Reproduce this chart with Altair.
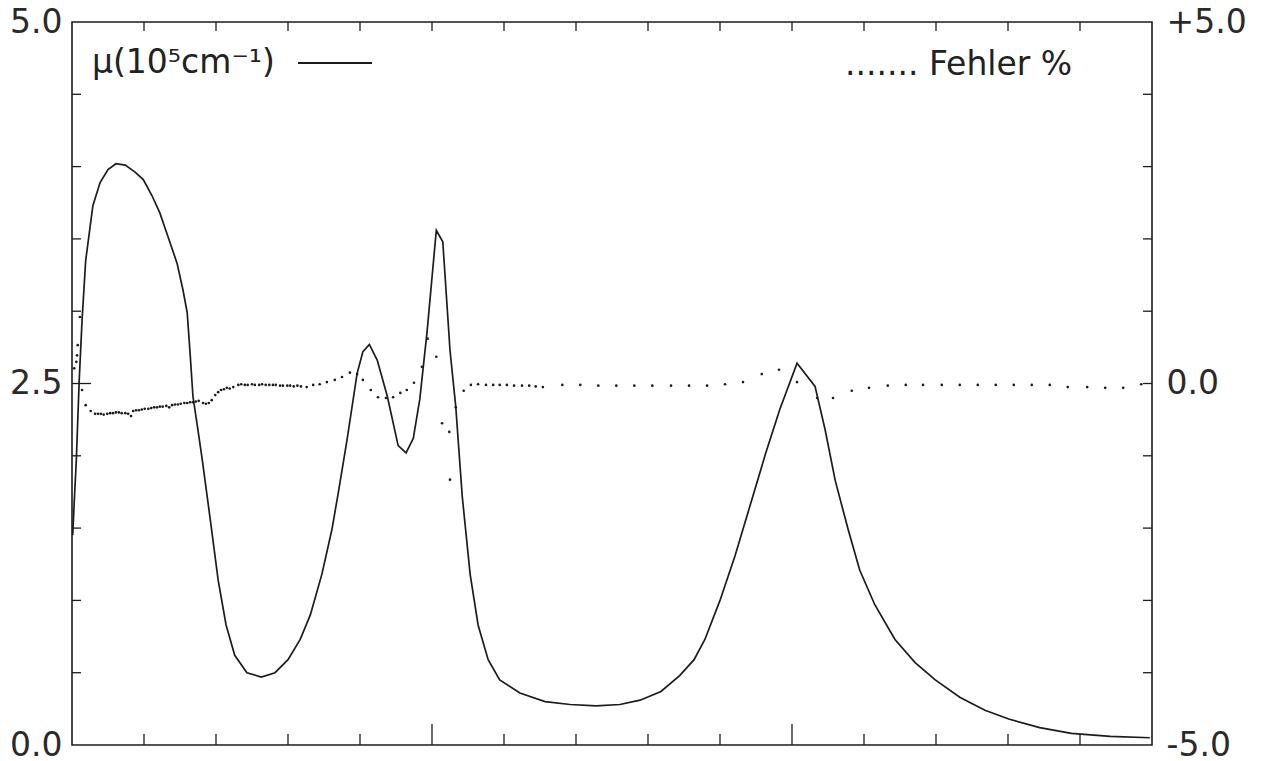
import altair as alt
import pandas as pd

# ---- absorption coefficient mu (left axis, 10^5 cm^-1) ----
mu_x = [0.01, 0.03, 0.06, 0.10, 0.14, 0.19, 0.29, 0.39, 0.50, 0.61, 0.74, 0.88, 0.99, 1.11, 1.22,
        1.33, 1.46, 1.54, 1.60, 1.64, 1.68, 1.74, 1.81, 1.92, 2.03, 2.14, 2.26, 2.43, 2.63, 2.82,
        3.00, 3.17, 3.31, 3.47, 3.61, 3.69, 3.82, 3.96, 4.04, 4.13, 4.24, 4.38, 4.53, 4.64, 4.74,
        4.83, 4.93, 5.06, 5.15, 5.25, 5.33, 5.42, 5.53, 5.64, 5.78, 5.94, 6.22, 6.57, 6.92, 7.28,
        7.61, 7.89, 8.18, 8.44, 8.64, 8.79, 9.00, 9.21, 9.42, 9.63, 9.83, 10.07, 10.32, 10.46, 10.60,
        10.78, 10.94, 11.15, 11.43, 11.71, 11.99, 12.33, 12.68, 13.01, 13.44, 13.88, 14.42, 14.97]
mu_y = [1.45, 1.67, 1.97, 2.52, 2.94, 3.35, 3.73, 3.89, 3.98, 4.02, 4.01, 3.96, 3.91, 3.80, 3.68,
        3.52, 3.33, 3.15, 2.99, 2.71, 2.41, 2.21, 1.97, 1.56, 1.14, 0.83, 0.62, 0.50, 0.47, 0.50,
        0.59, 0.73, 0.90, 1.18, 1.49, 1.72, 2.11, 2.57, 2.72, 2.77, 2.66, 2.41, 2.07, 2.02, 2.12,
        2.39, 2.85, 3.56, 3.48, 2.73, 2.34, 1.72, 1.18, 0.83, 0.59, 0.45, 0.36, 0.30, 0.28, 0.27,
        0.28, 0.31, 0.37, 0.48, 0.59, 0.73, 1.00, 1.31, 1.66, 2.01, 2.32, 2.64, 2.48, 2.18, 1.83,
        1.49, 1.21, 0.97, 0.73, 0.57, 0.45, 0.33, 0.24, 0.18, 0.12, 0.08, 0.06, 0.05]

# ---- error in percent (right axis), dotted ----
err_x = [0.03, 0.06, 0.07, 0.08, 0.11, 0.14, 0.19, 0.26, 0.32,
         0.36, 0.40, 0.44, 0.49, 0.53, 0.57, 0.61, 0.65, 0.69, 0.74, 0.78, 0.82,
         0.85, 0.89, 0.93, 0.97, 1.01, 1.06, 1.10, 1.14, 1.18, 1.22, 1.26, 1.31, 1.35,
         1.39, 1.43, 1.47, 1.51, 1.56, 1.60, 1.64, 1.68, 1.72, 1.76,
         1.82, 1.86, 1.90, 1.94, 1.99, 2.03, 2.07, 2.11, 2.15, 2.19, 2.24,
         2.31, 2.35, 2.40, 2.44, 2.50, 2.54, 2.60, 2.64, 2.69, 2.74, 2.79, 2.83, 2.89, 2.93, 2.99, 3.03, 3.08, 3.13, 3.18,
         3.26, 3.35, 3.44, 3.54, 3.65, 3.75, 3.86, 3.96, 4.04, 4.15, 4.25, 4.36, 4.46, 4.56, 4.65, 4.75, 4.86, 4.94, 5.06, 5.14, 5.24, 5.25, 5.33, 5.44, 5.54,
         5.64, 5.75, 5.85, 5.94, 6.04, 6.14, 6.25, 6.35, 6.44, 6.54,
         6.81, 7.06, 7.31, 7.56, 7.81, 8.06, 8.32, 8.57, 8.82, 9.07, 9.32, 9.58, 9.82, 10.07, 10.35, 10.57, 10.83,
         11.07, 11.33, 11.58, 11.82, 12.08, 12.33, 12.58, 12.83, 13.08, 13.33, 13.58, 13.83, 14.10, 14.35, 14.60, 14.85]
err_y = [0.21, 0.30, 0.39, 0.53, 0.92, -0.09, -0.30, -0.38, -0.42,
         -0.42, -0.42, -0.43, -0.42, -0.41, -0.41, -0.40, -0.40, -0.41, -0.41, -0.42, -0.45,
         -0.38, -0.37, -0.37, -0.36, -0.35, -0.35, -0.34, -0.33, -0.33, -0.32, -0.32, -0.31, -0.33,
         -0.30, -0.29, -0.29, -0.28, -0.27, -0.27, -0.26, -0.26, -0.25, -0.24,
         -0.27, -0.28, -0.27, -0.23, -0.16, -0.12, -0.09, -0.08, -0.06, -0.07, -0.05,
         -0.02, -0.01, -0.02, -0.02, -0.01, -0.02, -0.02, -0.01, -0.02, -0.02, -0.02, -0.02, -0.03, -0.03, -0.03, -0.03, -0.04, -0.03, -0.04,
         -0.05, -0.02, -0.01, 0.02, 0.05, 0.09, 0.15, 0.13, 0.05, -0.09, -0.19, -0.20, -0.19, -0.13, -0.09, 0.01, 0.23, 0.62, 0.37, -0.55, -0.67, -1.33, -0.33, -0.10, -0.02,
         -0.01, -0.02, -0.02, -0.02, -0.02, -0.03, -0.03, -0.03, -0.04, -0.05,
         -0.02, -0.02, -0.03, -0.03, -0.03, -0.03, -0.03, -0.03, -0.03, -0.01, 0.02, 0.13, 0.19, 0.02, -0.20, -0.20, -0.10,
         -0.06, -0.03, -0.02, -0.02, -0.02, -0.02, -0.02, -0.02, -0.02, -0.02, -0.02, -0.05, -0.05, -0.06, -0.06, -0.01]

# ---- axes / ticks ----
left_label_values = [0.0, 2.5, 5.0]
right_label_values = [-5.0, 0.0, 5.0]
left_minor_ticks = [0.5, 1.0, 1.5, 2.0, 3.0, 3.5, 4.0, 4.5]
left_major_ticks = [2.5]
right_ticks = [-4, -3, -2, -1, 0, 1, 2, 3, 4]
x_minor_ticks = [1, 2, 3, 4, 6, 7, 8, 9, 11, 12, 13, 14]
x_major_ticks = [5, 10]
x_top_ticks = [1, 2, 3, 4, 5, 6, 7, 8, 9, 10, 11, 12, 13, 14]

legend_mu = "μ(10⁵cm⁻¹)"
legend_err = "....... Fehler %"

W, H = 1080, 723
FONT = "DejaVu Sans"
INK = "#1c1c1c"

xs = alt.Scale(domain=[0, 15], nice=False, zero=False)
ys_mu = alt.Scale(domain=[0, 5], nice=False, zero=False)
ys_err = alt.Scale(domain=[-5, 5], nice=False, zero=False)

mu_df = pd.DataFrame({"x": mu_x, "mu": mu_y})
err_df = pd.DataFrame({"x": err_x, "err": err_y})

mu_line = alt.Chart(mu_df).mark_line(color=INK, strokeWidth=1.7).encode(
    x=alt.X("x:Q", scale=xs, axis=None),
    y=alt.Y("mu:Q", scale=ys_mu,
            axis=alt.Axis(orient="left", values=left_label_values, format=".1f",
                          ticks=False, domain=False, grid=False, title=None,
                          labelFontSize=33, labelFont=FONT, labelColor="#2a2a2a",
                          labelPadding=10)),
)

err_labels = ("datum.value > 0 ? '+' + format(datum.value, '.1f') : "
              "(datum.value < 0 ? '-' + format(-datum.value, '.1f') : format(datum.value, '.1f'))")
err_dots = alt.Chart(err_df).mark_circle(color=INK, size=7, opacity=1).encode(
    x=alt.X("x:Q", scale=xs, axis=None),
    y=alt.Y("err:Q", scale=ys_err,
            axis=alt.Axis(orient="right", values=right_label_values, labelExpr=err_labels,
                          ticks=False, domain=False, grid=False, title=None,
                          labelFontSize=33, labelFont=FONT, labelColor="#2a2a2a",
                          labelPadding=14)),
)


def hticks(vals, scale, x0, x1):
    return alt.Chart(pd.DataFrame({"v": vals})).mark_rule(color=INK, strokeWidth=1.3).encode(
        y=alt.Y("v:Q", scale=scale, axis=None), x=alt.value(x0), x2=alt.value(x1))


def vticks(vals, y0, y1):
    return alt.Chart(pd.DataFrame({"v": vals})).mark_rule(color=INK, strokeWidth=1.3).encode(
        x=alt.X("v:Q", scale=xs, axis=None), y=alt.value(y0), y2=alt.value(y1))


tick_layers = [
    hticks(left_minor_ticks, ys_mu, 0, 9),
    hticks(left_major_ticks, ys_mu, 0, 19),
    hticks(right_ticks, ys_err, W, W - 9),
    vticks(x_minor_ticks, H, H - 11),
    vticks(x_major_ticks, H, H - 21),
    vticks(x_top_ticks, 0, 9),
]

txt_mu = alt.Chart(pd.DataFrame({"t": [legend_mu]})).mark_text(
    align="left", baseline="alphabetic", fontSize=33, font=FONT, color="#222"
).encode(x=alt.value(20), y=alt.value(51), text="t:N")

legend_line = alt.Chart(pd.DataFrame({"t": [legend_mu]})).mark_rule(
    color=INK, strokeWidth=2.2
).encode(x=alt.value(226), x2=alt.value(300), y=alt.value(41))

txt_err = alt.Chart(pd.DataFrame({"t": [legend_err]})).mark_text(
    align="left", baseline="alphabetic", fontSize=33, font=FONT, color="#222"
).encode(x=alt.value(773), y=alt.value(53), text="t:N")

chart = alt.layer(
    mu_line, err_dots, *tick_layers, txt_mu, legend_line, txt_err
).resolve_scale(y="independent").properties(
    width=W, height=H,
    padding={"left": 64, "top": 14, "right": 100, "bottom": 14},
    autosize=alt.AutoSizeParams(type="none"),
    background="white",
).configure_view(stroke=INK, strokeWidth=1.6)

chart.save("out.html", embed_options={"renderer": "svg", "actions": False})
